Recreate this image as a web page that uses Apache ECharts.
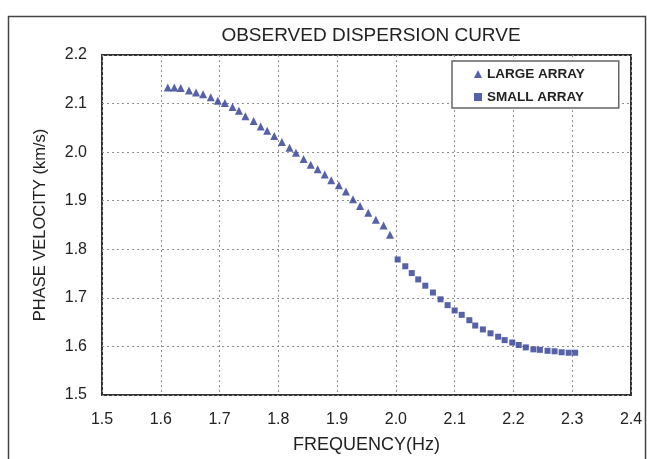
<!DOCTYPE html>
<html>
<head>
<meta charset="utf-8">
<script src="https://cdn.jsdelivr.net/npm/echarts@6/dist/echarts.min.js"></script>
<style>
  html, body { margin: 0; padding: 0; background: #fff; }
  #chart { width: 647px; height: 459px; }
</style>
</head>
<body>
<div id="chart"></div>
<script>
// ---- data ----
var titleText = 'OBSERVED DISPERSION CURVE';
var xAxisTitle = 'FREQUENCY(Hz)';
var yAxisTitle = 'PHASE VELOCITY (km/s)';
var seriesNames = ['LARGE ARRAY', 'SMALL ARRAY'];

var largeFreq = [1.612,1.623,1.634,1.648,1.660,1.672,1.685,1.697,1.709,1.722,1.733,1.744,1.758,1.770,1.781,1.793,1.806,1.819,1.830,1.843,1.855,1.867,1.879,1.890,1.903,1.915,1.927,1.939,1.953,1.966,1.979,1.990];
var largeVel  = [2.133,2.133,2.132,2.127,2.123,2.119,2.113,2.106,2.101,2.093,2.085,2.074,2.064,2.053,2.044,2.033,2.021,2.009,1.999,1.986,1.974,1.965,1.954,1.942,1.932,1.919,1.903,1.889,1.875,1.861,1.849,1.830];

var smallFreq = [2.003,2.016,2.027,2.038,2.050,2.063,2.076,2.088,2.100,2.112,2.125,2.135,2.148,2.161,2.174,2.185,2.198,2.209,2.221,2.234,2.245,2.258,2.270,2.282,2.294,2.305];
var smallVel  = [1.779,1.765,1.751,1.738,1.725,1.711,1.697,1.685,1.674,1.665,1.654,1.643,1.635,1.627,1.620,1.613,1.608,1.603,1.598,1.594,1.593,1.591,1.590,1.588,1.587,1.587];

var xMin = 1.5, xMax = 2.4, xStep = 0.1;
var yMin = 1.5, yMax = 2.2, yStep = 0.1;

function zip(a, b) { return a.map(function (v, i) { return [v, b[i]]; }); }

var FONT = '"Liberation Sans", Arial, sans-serif';
var markColor = '#2c3a92';

var chart = echarts.init(document.getElementById('chart'), null, { renderer: 'canvas' });
chart.setOption({
  animation: false,
  backgroundColor: '#ffffff',
  title: {
    text: titleText,
    left: 366,
    top: 21,
    textAlign: 'center',
    textStyle: { fontFamily: FONT, fontSize: 19, fontWeight: 'normal', color: '#222' }
  },
  graphic: [{
    type: 'rect',
    silent: true,
    shape: { x: 8.5, y: 16.5, width: 637, height: 460 },
    style: { fill: 'none', stroke: '#444', lineWidth: 1.5 }
  }],
  legend: {
    orient: 'vertical',
    left: 452,
    top: 61,
    padding: [6, 34, 4, 22],
    itemGap: 9,
    itemWidth: 8,
    itemHeight: 8,
    borderColor: '#666',
    borderWidth: 1.5,
    backgroundColor: '#fff',
    textStyle: { fontFamily: FONT, fontSize: 13.5, fontWeight: 'bold', color: '#222' },
    data: [
      { name: seriesNames[0], icon: 'triangle' },
      { name: seriesNames[1], icon: 'rect' }
    ]
  },
  grid: {
    left: 102, right: 16, top: 55, bottom: 59,
    show: true, borderColor: '#333', borderWidth: 2, backgroundColor: 'transparent'
  },
  xAxis: {
    type: 'value', min: xMin, max: xMax, interval: xStep,
    name: xAxisTitle, nameLocation: 'middle', nameGap: 41,
    nameTextStyle: { fontFamily: FONT, fontSize: 18, color: '#222' },
    axisLine: { show: false },
    axisTick: { show: false },
    axisLabel: {
      margin: 17, fontFamily: FONT, fontSize: 16, color: '#222',
      formatter: function (v) { return v.toFixed(1); }
    },
    splitLine: { show: true, lineStyle: { color: '#8f8f8f', type: [2, 3], width: 1 } }
  },
  yAxis: {
    type: 'value', min: yMin, max: yMax, interval: yStep,
    name: yAxisTitle, nameLocation: 'middle', nameRotate: 90, nameGap: 53,
    nameTextStyle: { fontFamily: FONT, fontSize: 16.5, color: '#222' },
    axisLine: { show: false },
    axisTick: { show: false },
    axisLabel: {
      margin: 15, fontFamily: FONT, fontSize: 16, color: '#222',
      formatter: function (v) { return v.toFixed(1); }
    },
    splitLine: { show: true, lineStyle: { color: '#8f8f8f', type: [2, 3], width: 1 } }
  },
  series: [
    {
      name: seriesNames[0], type: 'scatter', symbol: 'triangle', symbolSize: 8,
      itemStyle: { color: markColor }, data: zip(largeFreq, largeVel)
    },
    {
      name: seriesNames[1], type: 'scatter', symbol: 'rect', symbolSize: 6,
      itemStyle: { color: markColor }, data: zip(smallFreq, smallVel)
    }
  ]
});
</script>
</body>
</html>
